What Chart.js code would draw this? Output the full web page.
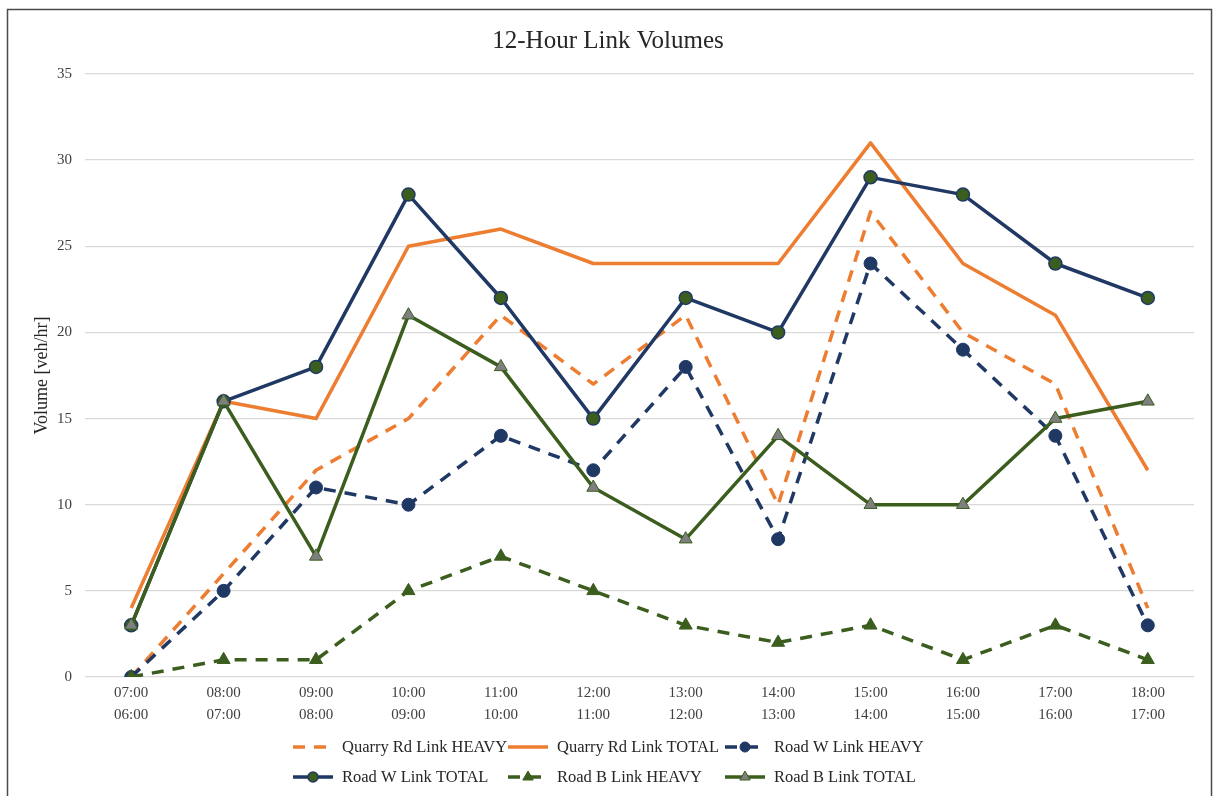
<!DOCTYPE html>
<html>
<head>
<meta charset="utf-8">
<script src="https://cdn.jsdelivr.net/npm/chart.js@4.4.1/dist/chart.umd.min.js"></script>
<style>
html,body{margin:0;padding:0;background:#fff;}
#wrap{position:relative;width:1216px;height:796px;}
</style>
</head>
<body>
<div id="wrap"><canvas id="c" width="1216" height="796"></canvas></div>
<script>
// ---- data ----
const categories = [
  ["07:00","06:00"],["08:00","07:00"],["09:00","08:00"],["10:00","09:00"],
  ["11:00","10:00"],["12:00","11:00"],["13:00","12:00"],["14:00","13:00"],
  ["15:00","14:00"],["16:00","15:00"],["17:00","16:00"],["18:00","17:00"]
];
const quarryHeavy = [0, 6, 12, 15, 21, 17, 21, 10, 27, 20, 17, 4];
const quarryTotal = [4, 16, 15, 25, 26, 24, 24, 24, 31, 24, 21, 12];
const roadWHeavy  = [0, 5, 11, 10, 14, 12, 18, 8, 24, 19, 14, 3];
const roadWTotal  = [3, 16, 18, 28, 22, 15, 22, 20, 29, 28, 24, 22];
const roadBHeavy  = [0, 1, 1, 5, 7, 5, 3, 2, 3, 1, 3, 1];
const roadBTotal  = [3, 16, 7, 21, 18, 11, 8, 14, 10, 10, 15, 16];
const yTicks = [0, 5, 10, 15, 20, 25, 30, 35];
const seriesNames = [
  "Quarry Rd Link HEAVY","Quarry Rd Link TOTAL","Road W Link HEAVY",
  "Road W Link TOTAL","Road B Link HEAVY","Road B Link TOTAL"
];

// ---- style ----
const FONT = "'Liberation Serif', 'DejaVu Serif', serif";
const ORANGE = '#ED7D31';
const NAVY = '#203864';
const GREEN = '#3B5E1F';
const GRAY = '#7F7F7F';
const DASH = [12, 9];

const datasets = [
  {label: seriesNames[0], data: quarryHeavy, borderColor: ORANGE, backgroundColor: ORANGE,
   borderWidth: 3.5, borderDash: DASH, pointRadius: 0, pointStyle: false},
  {label: seriesNames[1], data: quarryTotal, borderColor: ORANGE, backgroundColor: ORANGE,
   borderWidth: 3.5, pointRadius: 0, pointStyle: false},
  {label: seriesNames[2], data: roadWHeavy, borderColor: NAVY, backgroundColor: NAVY,
   borderWidth: 3.5, borderDash: DASH, pointStyle: 'circle', pointRadius: 6.5,
   pointBackgroundColor: NAVY, pointBorderColor: NAVY, pointBorderWidth: 1},
  {label: seriesNames[3], data: roadWTotal, borderColor: NAVY, backgroundColor: NAVY,
   borderWidth: 3.5, pointStyle: 'circle', pointRadius: 6.5,
   pointBackgroundColor: GREEN, pointBorderColor: NAVY, pointBorderWidth: 1.5},
  {label: seriesNames[4], data: roadBHeavy, borderColor: GREEN, backgroundColor: GREEN,
   borderWidth: 3.5, borderDash: DASH, pointStyle: 'triangle', pointRadius: 7.5,
   pointBackgroundColor: GREEN, pointBorderColor: GREEN, pointBorderWidth: 1},
  {label: seriesNames[5], data: roadBTotal, borderColor: GREEN, backgroundColor: GREEN,
   borderWidth: 3.5, pointStyle: 'triangle', pointRadius: 7.5,
   pointBackgroundColor: GRAY, pointBorderColor: GREEN, pointBorderWidth: 1}
].map((d, i) => Object.assign(d, {order: 5 - i, tension: 0, fill: false,
   borderCapStyle: 'butt', borderJoinStyle: 'round', pointHoverRadius: d.pointRadius}));

const framePlugin = {
  id: 'frame',
  beforeDraw(chart) {
    const ctx = chart.ctx;
    ctx.save();
    ctx.fillStyle = '#fff';
    ctx.fillRect(0, 0, chart.width, chart.height);
    ctx.strokeStyle = '#4a4a4a';
    ctx.lineWidth = 1.5;
    ctx.strokeRect(7.5, 9.5, 1204, 800);
    ctx.restore();
  }
};

const legendCols = [293, 508, 725];
const legendRows = [747, 777];
const legendPlugin = {
  id: 'customLegend',
  afterDraw(chart) {
    const ctx = chart.ctx;
    chart.data.datasets.forEach((ds, i) => {
      const x = legendCols[i % 3], y = legendRows[Math.floor(i / 3)];
      ctx.save();
      ctx.strokeStyle = ds.borderColor;
      ctx.lineWidth = 3.5;
      ctx.setLineDash(ds.borderDash || []);
      ctx.beginPath();
      ctx.moveTo(x, y); ctx.lineTo(x + 40, y);
      ctx.stroke();
      ctx.setLineDash([]);
      if (ds.pointStyle) {
        ctx.fillStyle = ds.pointBackgroundColor;
        ctx.strokeStyle = ds.pointBorderColor;
        ctx.lineWidth = ds.pointBorderWidth;
        Chart.helpers.drawPoint(ctx, {pointStyle: ds.pointStyle,
          radius: ds.pointStyle === 'triangle' ? 6 : 5, borderWidth: ds.pointBorderWidth, rotation: 0}, x + 20, y);
      }
      ctx.fillStyle = '#262626';
      ctx.font = "16.5px " + FONT;
      ctx.textBaseline = 'middle';
      ctx.textAlign = 'left';
      ctx.fillText(ds.label, x + 49, y + 1);
      ctx.restore();
    });
  }
};

new Chart(document.getElementById('c'), {
  type: 'line',
  data: {labels: categories, datasets: datasets},
  options: {
    responsive: false,
    animation: false,
    events: [],
    layout: {padding: {left: 22, right: 22, top: 10, bottom: 71}},
    plugins: {
      legend: {display: false},
      tooltip: {enabled: false},
      title: {
        display: true, text: '12-Hour Link Volumes', color: '#262626',
        font: {family: FONT, size: 25, weight: 'normal', lineHeight: 1.2},
        padding: {top: 16, bottom: 18}
      }
    },
    scales: {
      x: {
        offset: true,
        grid: {display: false, drawTicks: false},
        border: {display: false},
        ticks: {color: '#404040', font: {family: FONT, size: 15, lineHeight: 1.47},
                padding: 5, maxRotation: 0, autoSkip: false},
        afterFit(s) { s.height = 48; }
      },
      y: {
        min: 0, max: 35,
        afterBuildTicks(s) { s.ticks = yTicks.map(v => ({value: v})); },
        grid: {color: '#d9d9d9', lineWidth: 1.3, drawTicks: false},
        border: {display: false},
        ticks: {color: '#404040', font: {family: FONT, size: 15}, padding: 13},
        title: {display: true, text: 'Volume [veh/hr]', color: '#262626',
                font: {family: FONT, size: 18}, padding: {top: 9, bottom: 0}},
        afterFit(s) { s.width = 63; }
      }
    }
  },
  plugins: [framePlugin, legendPlugin]
});
</script>
</body>
</html>
